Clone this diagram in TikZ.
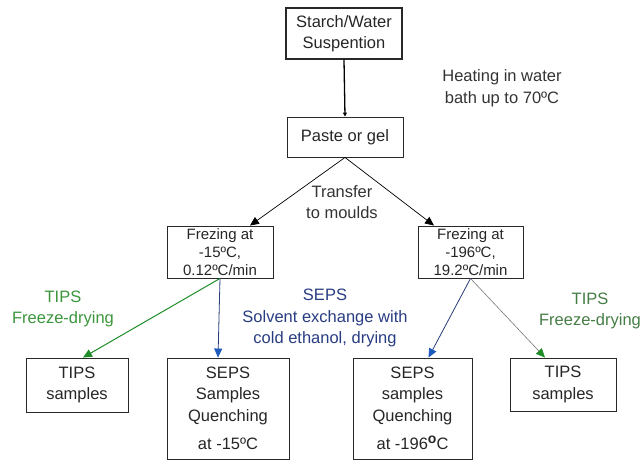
\documentclass[tikz,border=0pt]{standalone}
\usepackage{fontspec}
\setmainfont{Liberation Sans}
\usetikzlibrary{arrows.meta,calc}
\definecolor{boxline}{RGB}{40,40,40}
\definecolor{tipsgreen}{RGB}{60,150,60}
\definecolor{tipsgreenB}{RGB}{70,125,70}
\definecolor{arrgreen}{RGB}{30,140,40}
\definecolor{sepsblue}{RGB}{40,60,130}
\definecolor{arrblue}{RGB}{30,90,190}
\definecolor{arrnavy}{RGB}{40,60,120}
\definecolor{greyline}{RGB}{120,120,120}
\tikzset{
  boxnode/.style={draw=boxline, line width=0.9pt, align=center, inner sep=0pt,
    font=\fontsize{16.5}{21.5}\selectfont, text=black!85},
  frznode/.style={boxnode, font=\fontsize{15}{18}\selectfont},
  lbl/.style={align=center, inner sep=0pt, font=\fontsize{16.5}{21.5}\selectfont},
  tip/.style={-{Triangle[length=9pt,width=8pt]}},
  bluetip/.style={-{Triangle[length=9pt,width=8pt,color=arrblue]}},
  greentip/.style={-{Triangle[length=9pt,width=8pt,color=arrgreen]}},
  smalltip/.style={-{Triangle[length=4pt,width=4pt]}},
}
\begin{document}
\begin{tikzpicture}[x=1pt,y=-1pt]
\useasboundingbox (0,0) rectangle (644,460);
% boxes
\node[boxnode, line width=2pt, minimum width=116pt, minimum height=51pt] (starch) at (344,33.5) {Starch/Water\\Suspention};
\node[boxnode, minimum width=116pt, minimum height=40pt] (paste) at (345,137) {Paste or gel};
\node[frznode, minimum width=106pt, minimum height=52pt] (frzL) at (220,252) {Frezing at\\-15ºC,\\0.12ºC/min};
\node[frznode, minimum width=105pt, minimum height=52pt] (frzR) at (470.5,252) {Frezing at\\-196ºC,\\19.2ºC/min};
\node[boxnode, minimum width=102pt, minimum height=54pt] (tipsL) at (77,385) {TIPS\\samples};
\node[boxnode, minimum width=122pt, minimum height=101pt] (sepsL) at (228,408.5) {SEPS\\Samples\\Quenching\\[7pt]at -15ºC};
\node[boxnode, minimum width=119pt, minimum height=101pt] (sepsR) at (412.5,408.5) {SEPS\\samples\\Quenching\\[7pt]at -196\raisebox{0.75ex}{\bfseries\fontsize{14}{14}\selectfont o}C};
\node[boxnode, minimum width=106pt, minimum height=53pt] (tipsR) at (563,384.5) {TIPS\\samples};
% labels
\node[lbl, text=black!80] (heat) at (502,88) {Heating in water\\bath up to 70ºC};
\node[lbl, text=black!80] (transfer) at (342,202) {Transfer\\to moulds};
\node[lbl, text=tipsgreen] (tipsLlab) at (63,309) {TIPS\\Freeze-drying};
\node[lbl, text=sepsblue] (sepslab) at (325,318) {SEPS\\Solvent exchange with\\cold ethanol, drying};
\node[lbl, text=tipsgreenB] (tipsRlab) at (590,311) {TIPS\\Freeze-drying};
% connectors
\draw[smalltip, line width=1.3pt, black] (starch.south) -- (paste.north);
\draw[tip, line width=0.7pt, black] (paste.south) -- ([xshift=30pt]frzL.north);
\draw[tip, line width=0.7pt, black] (paste.south) -- ([xshift=-36.5pt]frzR.north);
\draw[greentip, line width=1pt, arrgreen] (frzL.south) -- ([xshift=6pt]tipsL.north);
\draw[bluetip, line width=0.8pt, arrnavy] (frzL.south) -- ([xshift=-10pt]sepsL.north);
\draw[bluetip, line width=0.8pt, arrnavy] (frzR.south) -- ([xshift=16pt]sepsR.north);
\draw[greentip, line width=0.6pt, greyline] (frzR.south) -- ([xshift=-18pt]tipsR.north);
\end{tikzpicture}
\end{document}
